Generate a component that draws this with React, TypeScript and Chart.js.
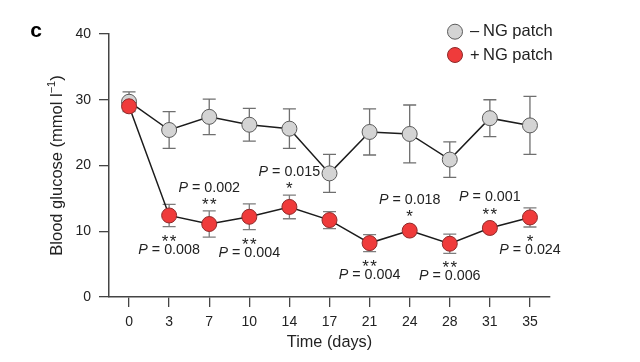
import React, { useEffect, useRef } from 'react';
import { Chart, registerables } from 'chart.js';

Chart.register(...registerables);

const days = ['0', '3', '7', '10', '14', '17', '21', '24', '28', '31', '35'];
const withoutPatch = [29.7, 25.4, 27.4, 26.2, 25.6, 18.8, 25.1, 24.8, 20.9, 27.2, 26.1];
const withoutPatchErr = [1.5, 2.8, 2.7, 2.5, 3.0, 2.9, 3.5, 4.4, 2.7, 2.8, 4.4];
const withPatch = [29.0, 12.4, 11.1, 12.2, 13.7, 11.7, 8.2, 10.1, 8.1, 10.5, 12.1];
const withPatchErr = [0.6, 1.7, 2.0, 1.95, 1.8, 1.3, 1.3, 0.5, 1.45, 0.6, 1.45];
const sigStars = ['', '**', '**', '**', '*', '', '**', '*', '**', '**', '*'];
const pValues = ['', '0.008', '0.002', '0.004', '0.015', '', '0.004', '0.018', '0.006', '0.001', '0.024'];
const sigSide = ['', 'below', 'above', 'below', 'above', '', 'below', 'above', 'below', 'above', 'below'];
const yTicks = [0, 10, 20, 30, 40];

const FONT = '"Liberation Sans", Arial, Helvetica, sans-serif';
const TEXT = '#222222';
const AXIS = '#444444';
const R = 7.5;

export default function App() {
  const ref = useRef<HTMLCanvasElement>(null);

  useEffect(() => {
    const canvas = ref.current!;

    const errorBars = {
      id: 'errorBars',
      beforeDatasetsDraw(chart: any) {
        const { ctx } = chart;
        const xs = chart.scales.x;
        const ys = chart.scales.y;
        const sets = [
          { v: withoutPatch, e: withoutPatchErr, c: '#6f6f6f' },
          { v: withPatch, e: withPatchErr, c: '#7d7d7d' },
        ];
        ctx.save();
        ctx.lineWidth = 1.3;
        sets.forEach((s) => {
          ctx.strokeStyle = s.c;
          s.v.forEach((v, i) => {
            const x = xs.getPixelForValue(i);
            const yt = ys.getPixelForValue(v + s.e[i]);
            const yb = ys.getPixelForValue(v - s.e[i]);
            ctx.beginPath();
            ctx.moveTo(x, yt);
            ctx.lineTo(x, yb);
            ctx.moveTo(x - 6.5, yt);
            ctx.lineTo(x + 6.5, yt);
            ctx.moveTo(x - 6.5, yb);
            ctx.lineTo(x + 6.5, yb);
            ctx.stroke();
          });
        });
        ctx.restore();
      },
    };

    const drawP = (ctx: CanvasRenderingContext2D, cx: number, cy: number, val: string) => {
      const size = 14.3;
      ctx.font = `italic ${size}px ${FONT}`;
      const wP = ctx.measureText('P').width;
      ctx.font = `${size}px ${FONT}`;
      const rest = ' = ' + val;
      const wR = ctx.measureText(rest).width;
      const x0 = cx - (wP + wR) / 2;
      ctx.textAlign = 'left';
      ctx.textBaseline = 'middle';
      ctx.fillStyle = TEXT;
      ctx.font = `italic ${size}px ${FONT}`;
      ctx.fillText('P', x0, cy);
      ctx.font = `${size}px ${FONT}`;
      ctx.fillText(rest, x0 + wP, cy);
    };

    const drawStars = (ctx: CanvasRenderingContext2D, cx: number, cy: number, s: string) => {
      const size = 17;
      ctx.font = `${size}px ${FONT}`;
      ctx.textAlign = 'center';
      ctx.textBaseline = 'alphabetic';
      ctx.fillStyle = TEXT;
      ctx.fillText(s.split('').join('\u200A'), cx, cy + 0.57 * size);
    };

    const annotations = {
      id: 'annotations',
      afterDraw(chart: any) {
        const { ctx, chartArea } = chart;
        const xs = chart.scales.x;
        const ys = chart.scales.y;
        ctx.save();
        withPatch.forEach((v, i) => {
          if (!sigStars[i]) return;
          const x = xs.getPixelForValue(i);
          const cy = ys.getPixelForValue(v);
          const yt = Math.min(ys.getPixelForValue(v + withPatchErr[i]), cy - R);
          const yb = Math.max(ys.getPixelForValue(v - withPatchErr[i]), cy + R);
          if (sigSide[i] === 'above') {
            const sy = yt - 10.5;
            drawStars(ctx, x, sy, sigStars[i]);
            drawP(ctx, x, sy - 12.5, pValues[i]);
          } else {
            const sy = yb + 10.5;
            drawStars(ctx, x, sy, sigStars[i]);
            drawP(ctx, x, sy + 12.5, pValues[i]);
          }
        });

        // axis titles
        ctx.fillStyle = TEXT;
        ctx.textBaseline = 'middle';
        ctx.textAlign = 'center';
        ctx.font = `16.3px ${FONT}`;
        ctx.fillText('Time (days)', (chartArea.left + chartArea.right) / 2, 343);

        ctx.save();
        ctx.translate(57, (chartArea.top + chartArea.bottom) / 2);
        ctx.rotate(-Math.PI / 2);
        const main = 'Blood glucose (mmol l';
        const sup = '\u22121';
        const end = ')';
        ctx.font = `16.5px ${FONT}`;
        const w1 = ctx.measureText(main).width;
        const w3 = ctx.measureText(end).width;
        ctx.font = `11px ${FONT}`;
        const w2 = ctx.measureText(sup).width;
        const total = w1 + w2 + w3;
        let x = -total / 2;
        ctx.textAlign = 'left';
        ctx.font = `16.5px ${FONT}`;
        ctx.fillText(main, x, 0);
        x += w1;
        ctx.font = `11px ${FONT}`;
        ctx.fillText(sup, x, -5);
        x += w2;
        ctx.font = `16.5px ${FONT}`;
        ctx.fillText(end, x, 0);
        ctx.restore();

        // legend
        const lx = chartArea.right - 95;
        const items = [
          { y: 31.7, fill: '#d4d4d4', stroke: '#5a5a5a', sign: '\u2013', text: 'NG patch' },
          { y: 55, fill: '#ef3b3b', stroke: '#8e2a2a', sign: '+', text: 'NG patch' },
        ];
        items.forEach((it) => {
          ctx.beginPath();
          ctx.arc(lx, it.y, R, 0, Math.PI * 2);
          ctx.fillStyle = it.fill;
          ctx.fill();
          ctx.lineWidth = 1;
          ctx.strokeStyle = it.stroke;
          ctx.stroke();
          ctx.fillStyle = TEXT;
          ctx.font = `16.5px ${FONT}`;
          ctx.textAlign = 'left';
          ctx.textBaseline = 'middle';
          ctx.fillText(it.sign, lx + 15, it.y);
          ctx.fillText(it.text, lx + 28, it.y);
        });

        // panel letter
        ctx.fillStyle = '#000';
        ctx.font = `bold 21px ${FONT}`;
        ctx.textAlign = 'center';
        ctx.textBaseline = 'middle';
        ctx.fillText('c', 36, 31);
        ctx.restore();
      },
    };

    const chart = new Chart(canvas, {
      type: 'line',
      data: {
        labels: days,
        datasets: [
          {
            label: '+ NG patch',
            data: withPatch,
            order: 1,
            borderColor: '#1c1c1c',
            borderWidth: 1.5,
            pointRadius: R,
            pointBackgroundColor: '#ef3b3b',
            pointBorderColor: '#8e2a2a',
            pointBorderWidth: 1,
            tension: 0,
          },
          {
            label: '\u2013 NG patch',
            data: withoutPatch,
            order: 2,
            borderColor: '#1c1c1c',
            borderWidth: 1.5,
            pointRadius: R,
            pointBackgroundColor: '#d4d4d4',
            pointBorderColor: '#5a5a5a',
            pointBorderWidth: 1,
            tension: 0,
          },
        ],
      },
      options: {
        responsive: false,
        animation: false,
        devicePixelRatio: 1,
        layout: { padding: { left: 0, top: 34, right: 90, bottom: 0 } },
        plugins: { legend: { display: false }, tooltip: { enabled: false } },
        scales: {
          x: {
            type: 'category',
            offset: true,
            grid: { offset: false, drawOnChartArea: false, drawTicks: true, tickLength: 10, color: AXIS, lineWidth: 1.3 },
            border: { color: AXIS, width: 1.5 },
            ticks: { padding: 7, color: TEXT, autoSkip: false, maxRotation: 0, font: { family: FONT, size: 14 } },
            afterFit: (s: any) => { s.height = 65; },
          },
          y: {
            min: 0,
            max: 40,
            afterBuildTicks: (s: any) => { s.ticks = yTicks.map((v) => ({ value: v })); },
            grid: { drawOnChartArea: false, drawTicks: true, tickLength: 10, color: AXIS, lineWidth: 1.3 },
            border: { color: AXIS, width: 1.5 },
            ticks: { padding: 8, color: TEXT, font: { family: FONT, size: 14 } },
            afterFit: (s: any) => { s.width = 109; },
          },
        },
      },
      plugins: [errorBars, annotations],
    } as any);

    return () => chart.destroy();
  }, []);

  return (
    <div style={{ position: 'fixed', left: 0, top: 0, width: 640, height: 362, background: '#fff' }}>
      <canvas ref={ref} width={640} height={362} style={{ display: 'block' }} />
    </div>
  );
}
